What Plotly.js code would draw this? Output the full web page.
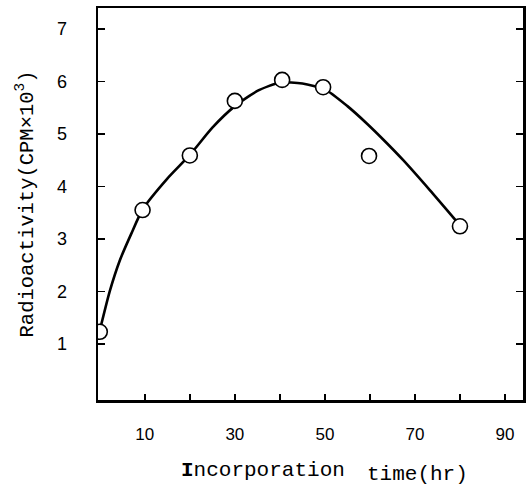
<!DOCTYPE html>
<html>
<head>
<meta charset="utf-8">
<script src="https://cdn.plot.ly/plotly-3.0.1.min.js"></script>
<style>html,body{margin:0;padding:0;background:#fff;}#chart{width:527px;height:488px;}</style>
</head>
<body>
<div id="chart"></div>
<script>
// Measured points (open circles)
const timeHr = [0, 9.5, 20, 30, 40.5, 49.6, 59.8, 80];
const cpm = [1.23, 3.55, 4.59, 5.63, 6.03, 5.89, 4.58, 3.24];

// Hand-drawn fitted curve
const curveX = [0.3, 2.2, 4.4, 7, 9.5, 15, 20, 25, 30, 35, 40, 45, 50, 55, 59.3, 63, 67.4, 73.3, 79.3];
const curveY = [1.36, 2.0, 2.58, 3.1, 3.56, 4.15, 4.6, 5.12, 5.53, 5.82, 5.98, 5.96, 5.85, 5.53, 5.2, 4.89, 4.5, 3.93, 3.33];

const xTickVals = [10, 30, 50, 70, 90];
const xMinorVals = [20, 40, 60, 80];
const yTickVals = [1, 2, 3, 4, 5, 6, 7];
const xTitleMain = '<b>I</b>ncorporation';
const xTitleUnit = 'time(hr)';
const yTitle = 'Radioactivity(CPM×10<sup>3</sup>)';

const titleFont = {family: 'Liberation Mono, monospace', size: 21, color: '#000'};

const traces = [
  {x: curveX, y: curveY, mode: 'lines', line: {color: '#000', width: 2.6, shape: 'spline', smoothing: 0.6}, hoverinfo: 'skip', showlegend: false},
  {x: timeHr, y: cpm, mode: 'markers', marker: {symbol: 'circle', size: 15, color: '#fff', line: {color: '#000', width: 1.6}}, showlegend: false}
];

const layout = {
  width: 527, height: 488,
  margin: {l: 98, r: 4, t: 8, b: 88},
  paper_bgcolor: '#fff', plot_bgcolor: '#fff',
  showlegend: false,
  xaxis: {
    range: [-0.4, 94], tickvals: xTickVals, ticks: 'inside', ticklen: 6, tickwidth: 1.5, tickcolor: '#000',
    minor: {tickvals: xMinorVals, ticks: 'inside', ticklen: 6, tickwidth: 1.5, tickcolor: '#000'},
    showgrid: false, zeroline: false, showline: true, linewidth: 2.5, linecolor: '#000', mirror: true,
    ticklabelstandoff: 17,
    tickfont: {family: 'Liberation Sans, Arial, sans-serif', size: 17, color: '#000'}
  },
  yaxis: {
    range: [-0.07, 7.4], tickvals: yTickVals, ticks: 'inside', ticklen: 7, tickwidth: 1.5, tickcolor: '#000',
    showgrid: false, zeroline: false, showline: true, linewidth: 2.5, linecolor: '#000', mirror: 'ticks',
    ticklabelstandoff: 25,
    tickfont: {family: 'Liberation Sans, Arial, sans-serif', size: 18, color: '#000'},
    title: {text: yTitle, standoff: 18, font: {family: 'Liberation Mono, monospace', size: 20.5, color: '#000'}}
  },
  annotations: [
    {text: xTitleMain, xref: 'paper', yref: 'paper', x: 0.19, y: -0.18, xanchor: 'left', yanchor: 'middle', showarrow: false, font: titleFont},
    {text: xTitleUnit, xref: 'paper', yref: 'paper', x: 0.628, y: -0.19, xanchor: 'left', yanchor: 'middle', showarrow: false, font: titleFont}
  ]
};

Plotly.newPlot('chart', traces, layout, {displayModeBar: false, staticPlot: true});
</script>
</body>
</html>
